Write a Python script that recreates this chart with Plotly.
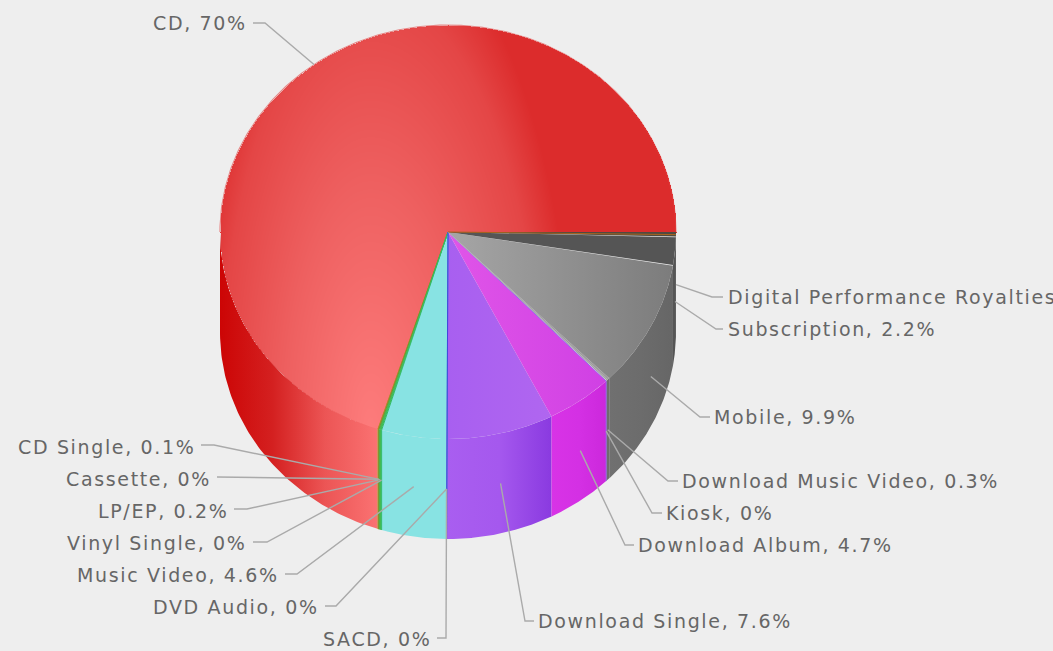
import numpy as np
import plotly.graph_objects as go

# ---- data ----
categories = ["CD", "CD Single", "Cassette", "LP/EP", "Vinyl Single", "Music Video", "DVD Audio", "SACD",
              "Download Single", "Download Album", "Kiosk", "Download Music Video", "Mobile", "Subscription",
              "Digital Performance Royalties"]
values = [70, 0.1, 0, 0.2, 0, 4.6, 0, 0, 7.6, 4.7, 0, 0.3, 9.9, 2.2, 0.4]

# ---- style ----
top_colors = ["#e44646", "#b08a2a", "#66aa33", "#44bb55", "#33bb66", "#88e3e3", "#3399cc", "#4444dd",
              "#aa62f0", "#dc50e8", "#9966ee", "#9c9c9c", "#8f8f8f", "#555555", "#504a40"]
side_colors = {11: "#6e6e6e", 13: "#555555", 14: "#444444"}
top_grad = {8: ["#a85ff0", "#b066f0"], 9: ["#e055e8", "#d040e4"], 12: ["#a6a6a6", "#7c7c7c"]}
side_grad = {0: ["#cc0505", "#d42020", "#ec5555", "#fa7272"], 8: ["#a95ef0", "#a558ee", "#8a3ae0"],
             9: ["#d833e6", "#d430e4", "#cc28dc"], 12: ["#707070", "#6c6c6c", "#666666"]}
edge_lines = {1: "#b08a2a", 2: "#669933", 3: "#44bb55", 4: "#33bb66", 6: "#3399cc", 7: "#4444dd", 10: "#9966ee"}
top_edge_lines = {11: "#b5b5b5", 14: "#a8641e"}
BG = "#eeeeee"
CX, CY, RX, RY, DEPTH = 448, 232, 228, 207, 100

# elbow and text positions of the labels, in page pixels
label_text = [(249, 23, "right"), (197, 447, "right"), (213, 479, "right"), (230, 511, "right"), (249, 543, "right"),
              (281, 575, "right"), (321, 607, "right"), (433, 639, "right"), (536, 621, "left"), (636, 545, "left"),
              (664, 513, "left"), (680, 481, "left"), (712, 417, "left"), (726, 329, "left"), (726, 297, "left")]
label_elbow = [(265, 23), (214, 445), (232, 477), (247, 509), (267, 542), (297, 574), (336, 606), (446, 638),
               (525, 621), (625, 545), (652, 513), (668, 481), (700, 417), (716, 329), (712, 297)]
line_ends = [253, 201, 217, 234, 253, 285, 325, 437, 534, 634, 662, 678, 710, 723, 723]

# ---- geometry from the values ----
edges = np.radians(np.concatenate([[0], np.cumsum(values)]) / 100 * 360)


def rim(a, dy=0.0):
    return CX + RX * np.cos(a), CY - RY * np.sin(a) + dy


fig = go.Figure()


def grad(stops, x0, x1):
    n = len(stops) - 1
    return dict(type="horizontal", start=x0, stop=x1,
                colorscale=[[i / n, c] for i, c in enumerate(stops)])


# the CD top carries a soft radial shade, so it is a masked heatmap
gx = np.arange(CX - RX - 1, CX + RX + 2)
gy = np.arange(CY - RY - 1, CY + RY + 2)
X, Y = np.meshgrid(gx, gy)
ang = np.mod(np.arctan2(-(Y - CY) / RY, (X - CX) / RX), 2 * np.pi)
inside = ((X - CX) / RX) ** 2 + ((Y - CY) / RY) ** 2 <= 1.0
shade = np.hypot((X - 370) * np.where(X < 370, 1.58, 1.4), (Y - 430) * 0.55) / 300
shade = np.where(inside & (ang <= edges[1]), np.minimum(shade, 1), np.nan).astype("float32")
fig.add_trace(go.Heatmap(x=gx, y=gy, z=shade, zmin=0, zmax=1, showscale=False, hoverinfo="skip", zsmooth=False,
                         colorscale=[[0, "#fd7c7c"], [0.45, "#ee6060"], [0.8, "#e44646"], [0.95, "#dc2c2c"],
                                     [1, "#dc2c2c"]]))

# sides (only the front half of the cylinder shows)
for i, name in enumerate(categories):
    a0, a1 = max(edges[i], np.pi), edges[i + 1]
    if a1 <= a0:
        continue
    t = np.linspace(a0, a1, 80)
    xt, yt = rim(t)
    xb, yb = rim(t[::-1], DEPTH)
    xs = np.concatenate([xt, xb, xt[:1]])
    ys = np.concatenate([yt, yb, yt[:1]])
    kw = dict(fill="toself", mode="lines", x=xs, y=ys, hoverinfo="skip", showlegend=False, name=name,
              line=dict(width=0))
    if i in side_grad:
        kw.update(fillgradient=grad(side_grad[i], float(xs.min()), float(xs.max())))
    else:
        kw.update(fillcolor=side_colors.get(i, top_colors[i]))
    fig.add_trace(go.Scatter(**kw))

# soft rim over the heatmap's stepped edge, back half of the CD only
t = np.linspace(edges[0], np.pi, 300)
xt, yt = rim(t)
fig.add_trace(go.Scatter(x=xt, y=yt, mode="lines", hoverinfo="skip", showlegend=False,
                         line=dict(color="rgba(226,64,64,0.6)", width=1.2)))

# tops of the other slices
for i, name in enumerate(categories):
    if i == 0:
        continue
    t = np.linspace(edges[i], edges[i + 1], 80)
    xt, yt = rim(t)
    xs = np.concatenate([[CX], xt, [CX]])
    ys = np.concatenate([[CY], yt, [CY]])
    kw = dict(fill="toself", mode="lines", x=xs, y=ys, hoverinfo="skip", showlegend=False, name=name,
              line=dict(width=0))
    if i in top_grad:
        kw.update(fillgradient=grad(top_grad[i], float(xs.min()), float(xs.max())))
    else:
        kw.update(fillcolor=top_colors[i])
    fig.add_trace(go.Scatter(**kw))

# thin and empty slices read as coloured edges, on top of the fills
for i, color in {**edge_lines, **top_edge_lines}.items():
    a = (edges[i] + edges[i + 1]) / 2
    xr, yr = rim(a)
    xs, ys = [CX, xr], [CY, yr]
    if i in edge_lines:
        xs, ys = [CX, xr, xr], [CY, yr, yr + DEPTH]
    fig.add_trace(go.Scatter(x=xs, y=ys, mode="lines", hoverinfo="skip", showlegend=False, name=categories[i],
                             line=dict(color=color, width=1.0)))

# leader lines and labels
annotations = []
for i, name in enumerate(categories):
    mid = (edges[i] + edges[i + 1]) / 2
    ax, ay = rim(mid, DEPTH / 2 if np.sin(mid) < 0 else 0)
    ex, ey = label_elbow[i]
    tx, ty, side = label_text[i]
    fig.add_trace(go.Scatter(x=[ax, ex, line_ends[i]], y=[ay, ey, ey], mode="lines", hoverinfo="skip",
                             showlegend=False, line=dict(color="#aaaaaa", width=1.4)))
    annotations.append(dict(x=tx, y=ty, xref="x", yref="y",
                            text=f'<span style="letter-spacing:1.65px">{name}, {values[i]:g}%</span>',
                            showarrow=False, xanchor=side, yanchor="middle",
                            font=dict(family="DejaVu Sans", size=19, color="#666666")))

fig.update_layout(width=1053, height=651, margin=dict(l=0, r=0, t=0, b=0), paper_bgcolor=BG, plot_bgcolor=BG,
                  annotations=annotations, showlegend=False,
                  xaxis=dict(range=[0, 1053], visible=False, fixedrange=True),
                  yaxis=dict(range=[651, 0], visible=False, fixedrange=True))
fig.write_html("out.html", config=dict(displayModeBar=False),
               post_script="document.body.style.margin='0';document.body.style.background='#eeeeee';"
                           "document.documentElement.style.overflow='hidden';")
